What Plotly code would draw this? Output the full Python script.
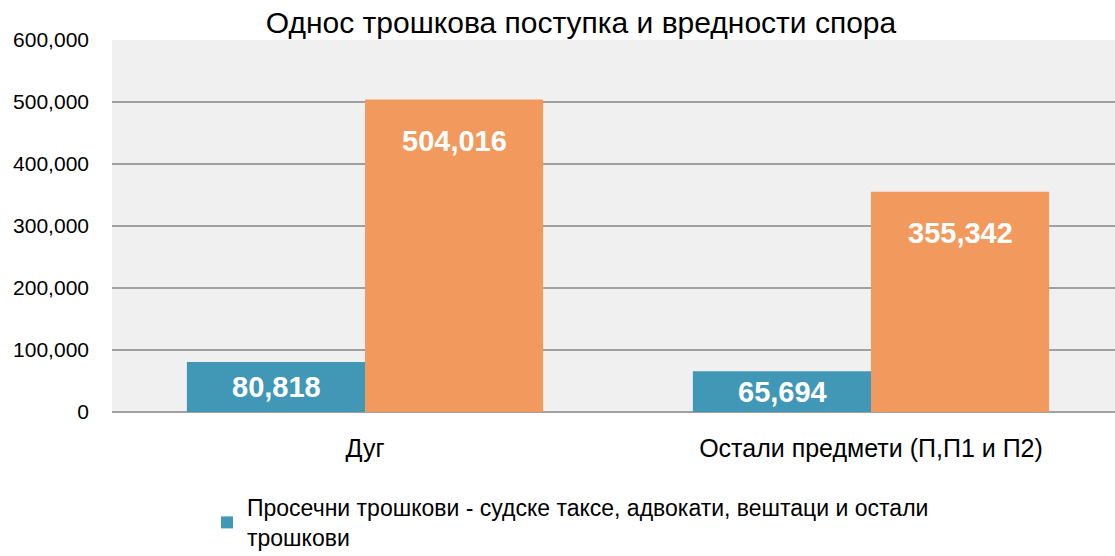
import plotly.graph_objects as go

categories = ["Дуг", "Остали предмети (П,П1 и П2)"]
costs = [80818, 65694]
dispute_value = [504016, 355342]
series_names = ["Просечни трошкови - судске таксе, адвокати, вештаци и остали<br>трошкови",
                "Вредност спора"]
y_ticks = [0, 100000, 200000, 300000, 400000, 500000, 600000]
title = "Однос трошкова поступка и вредности спора"

BLUE = "#4198b6"
ORANGE = "#f2995e"
FONT = "Liberation Sans, Arial, sans-serif"

W, H = 1115, 556
L, T, B = 112, 40, 144
PW = W - L

fig = go.Figure()
fig.add_trace(go.Bar(x=categories, y=costs, name=series_names[0], marker_color=BLUE,
                     marker_line_width=0, showlegend=True))
fig.add_trace(go.Bar(x=categories, y=dispute_value, name=series_names[1], marker_color=ORANGE,
                     marker_line_width=0, showlegend=False))

label_font = dict(family=FONT, size=29, color="white")
annotations = []
for c, v in zip(categories, costs):
    annotations.append(dict(x=c, y=v / 2, xref="x", yref="y", xshift=-89,
                            text=f"<b>{v:,}</b>", showarrow=False, font=label_font,
                            yanchor="middle"))
for c, v in zip(categories, dispute_value):
    annotations.append(dict(x=c, y=v, xref="x", yref="y", xshift=89, yshift=-41,
                            text=f"<b>{v:,}</b>", showarrow=False, font=label_font,
                            yanchor="middle"))

fig.update_layout(
    width=W, height=H,
    margin=dict(l=L, r=0, t=T, b=B),
    paper_bgcolor="white",
    plot_bgcolor="#f0f0f0",
    barmode="group",
    bargap=0.296,
    bargroupgap=0,
    font=dict(family=FONT, color="black"),
    title=dict(text=title, x=581 / W, xanchor="center", y=1 - 22 / H, yanchor="middle",
               font=dict(family=FONT, size=30, color="black")),
    annotations=annotations,
    legend=dict(orientation="h", xref="paper", x=(207 - L) / PW, xanchor="left",
                yref="container", y=1 - 486 / H, yanchor="top",
                font=dict(family=FONT, size=23, color="black"), bgcolor="rgba(0,0,0,0)"),
    xaxis=dict(range=[-0.5, -0.5 + PW / 506], showgrid=False, ticks="", showline=False,
               tickfont=dict(family=FONT, size=25, color="black"), ticklabelstandoff=19,
               zeroline=False, automargin=False),
    yaxis=dict(range=[0, 600000], tickvals=y_ticks, tickformat=",", showgrid=True,
               gridcolor="#a0a0a0", gridwidth=1.5, zeroline=True, zerolinecolor="#a0a0a0",
               zerolinewidth=1.5, ticks="", ticklabelstandoff=22, automargin=False,
               tickfont=dict(family=FONT, size=21, color="black")),
)

fig.write_html("out.html", config={"displayModeBar": False},
               post_script="document.body.style.margin='0';document.body.style.overflow='hidden';")
